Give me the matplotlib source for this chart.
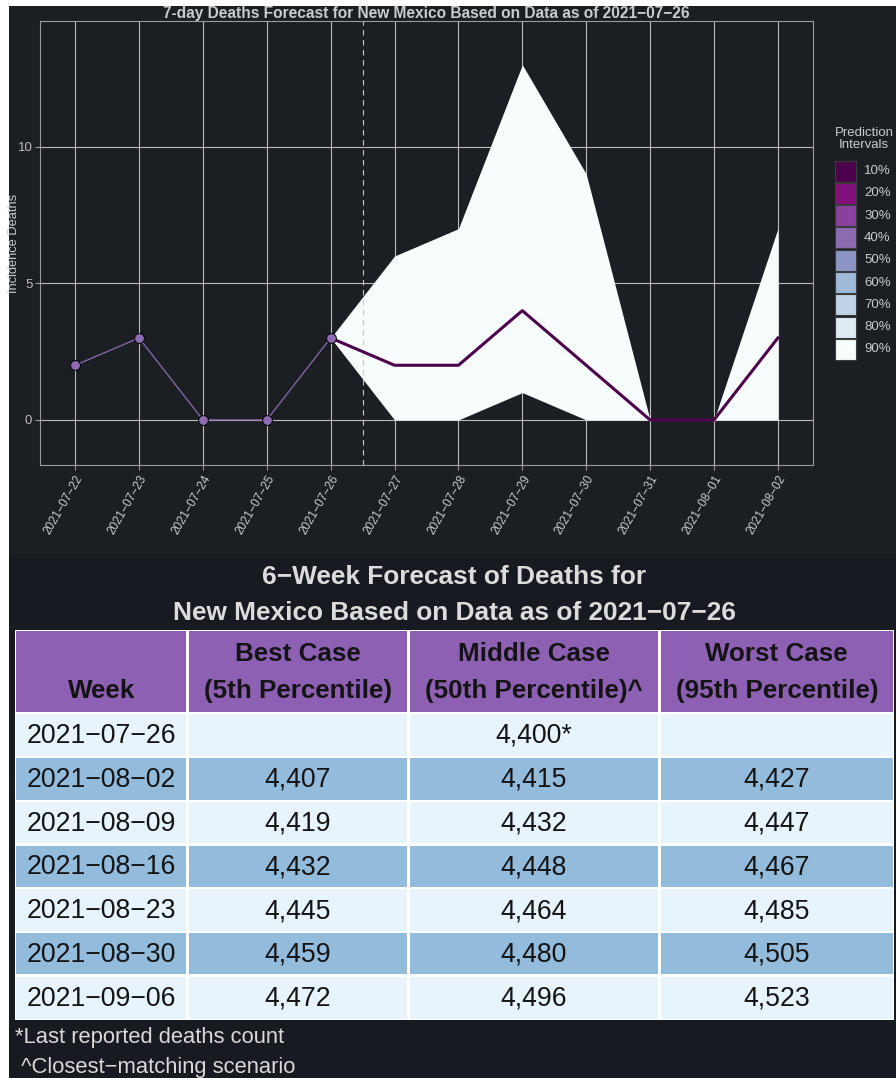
import numpy as np
import matplotlib.pyplot as plt
from matplotlib.patches import Rectangle

plt.rcParams['font.family'] = ['Liberation Sans', 'DejaVu Sans']

# ---- data ----
dates = ["2021-07-22", "2021-07-23", "2021-07-24", "2021-07-25", "2021-07-26",
         "2021-07-27", "2021-07-28", "2021-07-29", "2021-07-30", "2021-07-31",
         "2021-08-01", "2021-08-02"]
obs_deaths = [2, 3, 0, 0, 3]                 # 07-22 .. 07-26
fc_median = [3, 2, 2, 4, 2, 0, 0, 3]         # 07-26 .. 08-02
fc_lo90 = [3, 0, 0, 1, 0, 0, 0, 0]
fc_hi90 = [3, 6, 7, 13, 9, 0, 0, 7]

pi_labels = ["10%", "20%", "30%", "40%", "50%", "60%", "70%", "80%", "90%"]
pi_colors = ["#4d004b", "#810f7c", "#88419d", "#8c6bb1", "#8c96c6",
             "#9ebcda", "#bfd3e6", "#e0ecf4", "#f7fcfd"]

weeks = ["2021-07-26", "2021-08-02", "2021-08-09", "2021-08-16",
         "2021-08-23", "2021-08-30", "2021-09-06"]
best_case = ["", "4,407", "4,419", "4,432", "4,445", "4,459", "4,472"]
middle_case = ["4,400*", "4,415", "4,432", "4,448", "4,464", "4,480", "4,496"]
worst_case = ["", "4,427", "4,447", "4,467", "4,485", "4,505", "4,523"]
header_top = ["", "Best Case", "Middle Case", "Worst Case"]
header_bottom = ["Week", "(5th Percentile)", "(50th Percentile)^", "(95th Percentile)"]

MINUS = "\u2212"
W, H = 896, 1078
CHART_BG = "#1b1e22"
TABLE_BG = "#171a20"
GRID = "#bdbdbd"
TXT = "#c8cbd0"

fig = plt.figure(figsize=(W / 100, H / 100), dpi=100, facecolor="white")

# pixel-space layer for backgrounds, legend and table
bg = fig.add_axes([0, 0, 1, 1], zorder=-1)
bg.set_xlim(0, W)
bg.set_ylim(H, 0)
bg.axis("off")
bg.add_patch(Rectangle((9, 6), W - 9, 552, color=CHART_BG, lw=0))
bg.add_patch(Rectangle((9, 558), W - 9, H - 558, color=TABLE_BG, lw=0))

# ---- forecast chart ----
ax = fig.add_axes([40 / W, 1 - 465 / H, 773 / W, 444 / H])
ax.set_facecolor(CHART_BG)
x = np.arange(len(dates))
xf = x[len(obs_deaths) - 1:]
xo = x[:len(obs_deaths)]

ax.fill_between(xf, fc_lo90, fc_hi90, color=pi_colors[-1], lw=0, zorder=2)
ax.plot(xf, fc_median, color=pi_colors[0], lw=2.2, zorder=3)
ax.plot(xo, obs_deaths, color="#8c6bb1", lw=0.9, zorder=4)
ax.scatter(xo, obs_deaths, s=50, c="#8c6bb1", edgecolors="black",
           linewidths=0.7, zorder=5)
ax.axvline(4.5, color="#c8c8c8", lw=0.8, ls=(0, (5, 4)), zorder=2.5)

ax.set_xlim(-0.55, 11.55)
ax.set_ylim(-1.65, 14.6)
ax.set_yticks([0, 5, 10])
ax.set_yticklabels(["0", "5", "10"], fontsize=9.5, color="#bdbdbd")
ax.set_xticks(x)
ax.set_xticklabels([d.replace("-", MINUS) for d in dates], rotation=60,
                   ha="right", rotation_mode="anchor", fontsize=8.5, color=TXT)
ax.tick_params(axis="both", length=3.5, color="#9a9a9a", width=0.8, pad=2)
ax.grid(True, color=GRID, lw=0.8, zorder=1)
ax.set_axisbelow(True)
for s in ax.spines.values():
    s.set_color("#9a9a9a")
    s.set_linewidth(0.8)
ax.set_ylabel("Incidence Deaths", fontsize=9.3, color=TXT)
ax.yaxis.set_label_coords(-20 / 773, 0.5)
ax.set_title("7-day Deaths Forecast for New Mexico Based on Data as of 2021"
             + MINUS + "07" + MINUS + "26",
             fontsize=11.2, fontweight="bold", color=TXT, pad=1.5)

# legend
bg.text(864, 139, "Prediction\nIntervals", ha="center", va="center",
        fontsize=9.5, color=TXT, linespacing=1.1)
for i, (lab, col) in enumerate(zip(pi_labels, pi_colors)):
    yc = 171 + i * 22.3
    bg.add_patch(Rectangle((835, yc - 10.5), 21, 21, fc=col, ec="#3c3c3c", lw=0.8))
    bg.text(864, yc, lab, ha="left", va="center", fontsize=9.5, color=TXT)

# ---- table ----
bg.text(454.5, 577, "6" + MINUS + "Week Forecast of Deaths for", ha="center",
        va="center", fontsize=18.9, fontweight="bold", color="#dcdcdc")
bg.text(454.5, 613, "New Mexico Based on Data as of 2021" + MINUS + "07" + MINUS + "26",
        ha="center", va="center", fontsize=18.9, fontweight="bold", color="#dcdcdc")

col_edges = [15, 187.5, 408.5, 659.5, 894]
row_edges = [630, 713, 757, 801, 844.5, 888, 932, 975.5, 1020]
gap = 1.3
bg.add_patch(Rectangle((col_edges[0], row_edges[0]), col_edges[-1] - col_edges[0],
                       row_edges[-1] - row_edges[0], color="white", lw=0))
HEAD = "#8e60b3"
LIGHT = "#e8f4fb"
BLUE = "#93bbdc"
columns = [weeks, best_case, middle_case, worst_case]
for c in range(4):
    x0, x1 = col_edges[c] + gap, col_edges[c + 1] - gap
    xc = (col_edges[c] + col_edges[c + 1]) / 2
    y0, y1 = row_edges[0] + gap, row_edges[1] - gap
    bg.add_patch(Rectangle((x0, y0), x1 - x0, y1 - y0, color=HEAD, lw=0))
    bg.text(xc, 654, header_top[c], ha="center", va="center", fontsize=18.75,
            fontweight="bold", color="#141414")
    bg.text(xc, 691, header_bottom[c], ha="center", va="center", fontsize=18.75,
            fontweight="bold", color="#141414")
    for r, val in enumerate(columns[c]):
        y0, y1 = row_edges[r + 1] + gap, row_edges[r + 2] - gap
        bg.add_patch(Rectangle((x0, y0), x1 - x0, y1 - y0,
                               color=LIGHT if r % 2 == 0 else BLUE, lw=0))
        bg.text(xc, (y0 + y1) / 2 + 1, val.replace("-", MINUS), ha="center",
                va="center", fontsize=19.2, color="#141414")

bg.text(15, 1037, "*Last reported deaths count", ha="left", va="center",
        fontsize=15.8, color="#d9d9d9")
bg.text(15, 1067, " ^Closest" + MINUS + "matching scenario", ha="left", va="center",
        fontsize=15.8, color="#d9d9d9")

fig.savefig("out.png", dpi=100, facecolor="white")
